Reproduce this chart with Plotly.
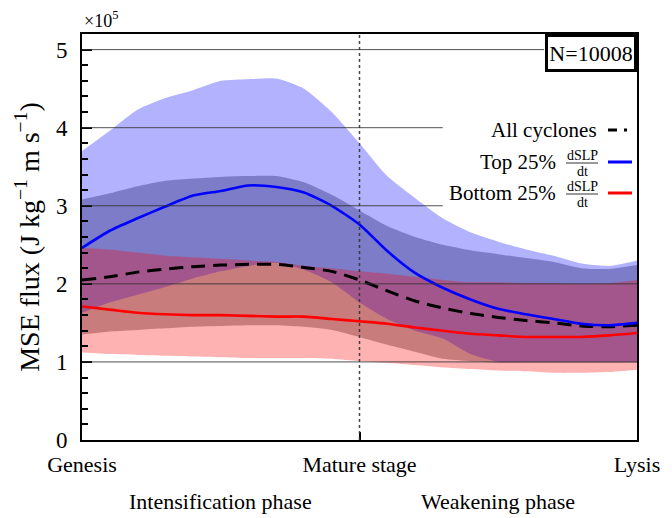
import plotly.graph_objects as go

# Normalised cyclone life cycle: 0 = genesis, 1 = mature stage, 2 = lysis
stage = [0.0, 0.1, 0.2, 0.3, 0.4, 0.5, 0.6, 0.7, 0.8, 0.9, 1.0,
         1.1, 1.2, 1.3, 1.4, 1.5, 1.6, 1.7, 1.8, 1.9, 2.0]

# MSE flux, units of 1e5 J kg-1 m s-1
all_mean = [2.05, 2.09, 2.15, 2.19, 2.22, 2.24, 2.25, 2.25, 2.21, 2.16, 2.05,
            1.91, 1.78, 1.69, 1.62, 1.57, 1.53, 1.50, 1.46, 1.45, 1.47]
all_low = [1.35, 1.39, 1.41, 1.43, 1.45, 1.46, 1.47, 1.47, 1.45, 1.41, 1.32,
           1.22, 1.13, 1.04, 1.01, 0.99, 0.99, 0.99, 0.99, 0.99, 0.99]
all_high = [3.08, 3.16, 3.25, 3.32, 3.35, 3.37, 3.38, 3.38, 3.30, 3.14, 2.94,
            2.74, 2.60, 2.50, 2.43, 2.38, 2.33, 2.28, 2.20, 2.19, 2.24]

top_mean = [2.46, 2.68, 2.84, 2.99, 3.13, 3.19, 3.26, 3.24, 3.17, 3.00, 2.76,
            2.42, 2.14, 1.95, 1.80, 1.68, 1.61, 1.55, 1.49, 1.47, 1.50]
top_low = [1.63, 1.76, 1.86, 1.96, 2.07, 2.16, 2.23, 2.27, 2.18, 2.02, 1.76,
           1.55, 1.40, 1.30, 1.10, 1.00, 1.00, 1.00, 1.00, 1.00, 1.00]
top_high = [3.70, 3.96, 4.23, 4.38, 4.48, 4.60, 4.62, 4.63, 4.50, 4.20, 3.80,
            3.38, 3.10, 2.84, 2.66, 2.54, 2.44, 2.36, 2.26, 2.23, 2.30]

bot_mean = [1.71, 1.67, 1.63, 1.61, 1.60, 1.60, 1.59, 1.58, 1.58, 1.55, 1.52,
            1.49, 1.44, 1.40, 1.36, 1.34, 1.32, 1.32, 1.32, 1.34, 1.37]
bot_low = [1.12, 1.10, 1.09, 1.08, 1.07, 1.06, 1.05, 1.05, 1.05, 1.04, 1.01,
           0.99, 0.96, 0.93, 0.91, 0.89, 0.88, 0.86, 0.86, 0.87, 0.90]
bot_high = [2.46, 2.44, 2.40, 2.36, 2.34, 2.32, 2.30, 2.28, 2.23, 2.20, 2.16,
            2.13, 2.09, 2.05, 2.02, 2.02, 2.01, 2.01, 2.00, 2.01, 2.05]

stage_ticks = [0, 1, 2]
stage_labels = ["Genesis", "Mature stage", "Lysis"]
phase_pos = [0.5, 1.5]
phase_labels = ["Intensification phase", "Weakening phase"]

FONT = "Liberation Serif"
SMOOTH = dict(shape="spline", smoothing=0.6)

fig = go.Figure()


def band(low, high, color):
    fig.add_trace(go.Scatter(x=stage, y=low, mode="lines", line=dict(width=0, **SMOOTH),
                             hoverinfo="skip", showlegend=False))
    fig.add_trace(go.Scatter(x=stage, y=high, mode="lines", line=dict(width=0, **SMOOTH),
                             fill="tonexty", fillcolor=color,
                             hoverinfo="skip", showlegend=False))


band(all_low, all_high, "rgba(0,0,0,0.30)")
band(top_low, top_high, "rgba(0,0,255,0.30)")
band(bot_low, bot_high, "rgba(255,0,0,0.30)")

fig.add_trace(go.Scatter(x=stage, y=all_mean, mode="lines", showlegend=False,
                         line=dict(color="black", width=3, dash="14px,8px", **SMOOTH)))
fig.add_trace(go.Scatter(x=stage, y=top_mean, mode="lines", showlegend=False,
                         line=dict(color="#0000ff", width=2.6, **SMOOTH)))
fig.add_trace(go.Scatter(x=stage, y=bot_mean, mode="lines", showlegend=False,
                         line=dict(color="#ff0000", width=2.6, **SMOOTH)))

shapes = []
# horizontal grid drawn over the bands, stopping short of the boxes on the right
grid = [(5, 1.665), (4, 1.30), (3, 1.30), (2, 2.0), (1, 2.0)]
for gy, gx1 in grid:
    shapes.append(dict(type="line", xref="x", yref="y", x0=0, x1=gx1, y0=gy, y1=gy,
                       line=dict(color="rgba(50,50,50,0.85)", width=1), layer="above"))
# mature-stage marker
shapes.append(dict(type="line", xref="x", yref="paper", x0=1, x1=1, y0=0, y1=1,
                   line=dict(color="rgba(50,50,50,0.9)", width=1.5, dash="dot"),
                   layer="above"))


# hand-built legend (labels left of the line samples)
def px_x(p):
    return (p - 82) / 555.0


def px_y(p):
    return (440 - p) / 406.0


annotations = []
legend_rows = [
    ("All cyclones", 130, False, dict(color="black", width=3, dash="9px,7px,3px,20px")),
    ("Top 25%", 162, True, dict(color="#0000ff", width=3)),
    ("Bottom 25%", 193, True, dict(color="#ff0000", width=3)),
]
for label, ypx, frac, ln in legend_rows:
    right = 558 if frac else 599
    annotations.append(dict(text=label, xref="paper", yref="paper",
                            x=px_x(right), y=px_y(ypx), xanchor="right", yanchor="middle",
                            showarrow=False, font=dict(family=FONT, size=21, color="black")))
    if frac:
        annotations.append(dict(text="dSLP", xref="paper", yref="paper",
                                x=px_x(582), y=px_y(ypx - 7), xanchor="center", yanchor="middle",
                                showarrow=False, font=dict(family=FONT, size=14, color="black")))
        annotations.append(dict(text="dt", xref="paper", yref="paper",
                                x=px_x(582), y=px_y(ypx + 9), xanchor="center", yanchor="middle",
                                showarrow=False, font=dict(family=FONT, size=14, color="black")))
        shapes.append(dict(type="line", xref="paper", yref="paper",
                           x0=px_x(566), x1=px_x(598), y0=px_y(ypx + 1), y1=px_y(ypx + 1),
                           line=dict(color="black", width=0.8), layer="above"))
    shapes.append(dict(type="line", xref="paper", yref="paper",
                       x0=px_x(608), x1=px_x(632), y0=px_y(ypx), y1=px_y(ypx),
                       line=ln, layer="above"))

annotations.append(dict(text="N=10008", xref="paper", yref="paper", x=1, y=1,
                        xanchor="right", yanchor="top", showarrow=False,
                        font=dict(family=FONT, size=22, color="black"),
                        bgcolor="white", bordercolor="black", borderwidth=3,
                        borderpad=2, width=82, height=28))
annotations.append(dict(text="×10<sup>5</sup>", xref="paper", yref="paper",
                        x=0, y=px_y(19), xanchor="left", yanchor="middle", showarrow=False,
                        font=dict(family=FONT, size=18, color="black")))
for xp, lab in zip(phase_pos, phase_labels):
    annotations.append(dict(text=lab, xref="x", yref="paper", x=xp, y=px_y(501),
                            xanchor="center", yanchor="middle", showarrow=False,
                            font=dict(family=FONT, size=22, color="black")))

fig.update_layout(
    width=672, height=518,
    margin=dict(l=82, r=35, t=34, b=78),
    paper_bgcolor="white", plot_bgcolor="white",
    font=dict(family=FONT, color="black"),
    shapes=shapes, annotations=annotations,
    showlegend=False,
    xaxis=dict(range=[0, 2], tickvals=stage_ticks, ticktext=stage_labels,
               ticks="inside", ticklen=8, tickwidth=2, tickcolor="black",
               showgrid=False, zeroline=False, showline=True, linecolor="black",
               linewidth=2, mirror=True, ticklabelstandoff=4,
               tickfont=dict(family=FONT, size=22, color="black")),
    yaxis=dict(range=[0, 5.2], tickvals=[0, 1, 2, 3, 4, 5],
               ticks="inside", ticklen=10, tickwidth=2, tickcolor="black",
               minor=dict(ticks="inside", ticklen=6, tickwidth=2, tickcolor="black",
                          dtick=0.2, showgrid=False),
               showgrid=False, zeroline=False, showline=True, linecolor="black",
               linewidth=2, mirror=True, ticklabelstandoff=8,
               tickfont=dict(family=FONT, size=23, color="black"),
               title=dict(text="MSE flux (J kg<sup>−1</sup> m s<sup>−1</sup>)",
                          font=dict(family=FONT, size=28, color="black"), standoff=8)),
)

fig.write_html("out.html")
